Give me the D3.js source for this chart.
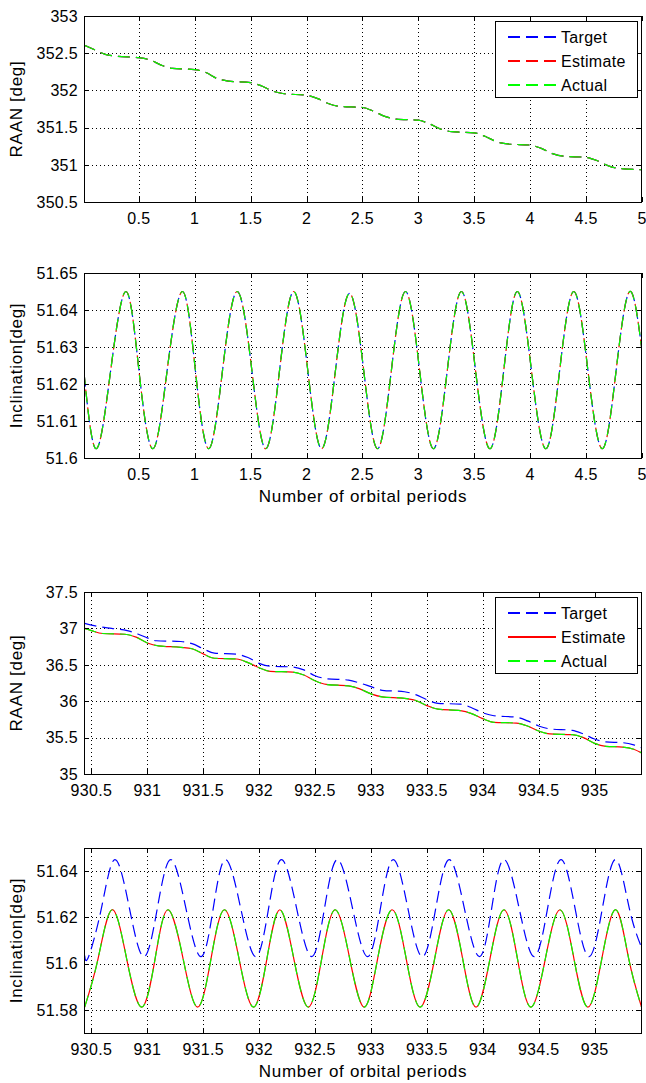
<!DOCTYPE html>
<html>
<head>
<meta charset="utf-8">
<script src="https://cdn.jsdelivr.net/npm/d3@7"></script>
<style>
  body { margin: 0; background: #fff; }
  text { font-family: Arial, "Liberation Sans", sans-serif; fill: #000; }
</style>
</head>
<body>
<script>
// ---- data ----

// panel 1: RAAN, first orbits (target, estimate and actual coincide)
var raan1X = [0.01, 0.1, 0.2, 0.3, 0.5, 0.6, 0.7, 0.8, 1.0, 1.1, 1.2, 1.3, 1.5, 1.6, 1.7, 1.8,
              2.0, 2.1, 2.2, 2.3, 2.5, 2.6, 2.7, 2.8, 3.0, 3.1, 3.2, 3.3, 3.5, 3.6, 3.7, 3.8,
              4.0, 4.1, 4.2, 4.3, 4.5, 4.6, 4.7, 4.8, 5.0];
var raan1Y = [352.61, 352.55, 352.485, 352.46, 352.44, 352.41, 352.34, 352.295, 352.28, 352.24, 352.16, 352.125,
              352.105, 352.06, 351.99, 351.955, 351.935, 351.89, 351.82, 351.785, 351.77, 351.72, 351.65, 351.615,
              351.6, 351.55, 351.48, 351.445, 351.43, 351.38, 351.31, 351.28, 351.265, 351.22, 351.15, 351.115,
              351.1, 351.055, 350.985, 350.95, 350.935];

// panel 2: inclination, first orbits
var incl1X = [0.01, 0.12, 0.25, 0.385, 0.5, 0.625, 0.755, 0.89, 1.005, 1.125, 1.25, 1.38, 1.51, 1.635,
              1.76, 1.885, 2.01, 2.135, 2.26, 2.385, 2.51, 2.635, 2.76, 2.885, 3.01, 3.135, 3.26, 3.385,
              3.51, 3.64, 3.765, 3.885, 4.01, 4.14, 4.265, 4.39, 4.515, 4.645, 4.77, 4.89, 5.0];
var incl1Y = [51.623, 51.6025, 51.624, 51.645, 51.624, 51.6025, 51.624, 51.645, 51.624, 51.6025, 51.624, 51.645,
              51.624, 51.6025, 51.624, 51.645, 51.624, 51.6025, 51.624, 51.6445, 51.624, 51.6025, 51.624, 51.645,
              51.624, 51.6025, 51.624, 51.645, 51.624, 51.6025, 51.624, 51.645, 51.624, 51.6025, 51.624, 51.645,
              51.624, 51.6025, 51.624, 51.645, 51.629];

// panel 3: RAAN, later orbits
var raan2TargetX = [930.44, 930.55, 930.68, 930.82, 930.92, 931.0, 931.08, 931.3, 931.4, 931.5, 931.6, 931.8,
                    931.9, 932.0, 932.1, 932.3, 932.4, 932.5, 932.6, 932.8, 932.9, 933.0, 933.1, 933.3,
                    933.4, 933.5, 933.6, 933.8, 933.9, 934.0, 934.1, 934.3, 934.4, 934.5, 934.6, 934.8,
                    934.9, 935.0, 935.1, 935.25, 935.35, 935.42];
var raan2TargetY = [37.07, 37.03, 37.0, 36.97, 36.92, 36.87, 36.83, 36.82, 36.79, 36.72, 36.66, 36.645,
                    36.6, 36.52, 36.48, 36.47, 36.43, 36.35, 36.31, 36.29, 36.25, 36.2, 36.15, 36.13,
                    36.09, 36.02, 35.97, 35.96, 35.91, 35.84, 35.8, 35.78, 35.73, 35.66, 35.62, 35.6,
                    35.55, 35.48, 35.44, 35.43, 35.4, 35.36];
var raan2EstX = [930.44, 930.5, 930.6, 930.8, 930.9, 931.0, 931.1, 931.3, 931.4, 931.5, 931.6, 931.8,
                 931.9, 932.0, 932.1, 932.3, 932.4, 932.5, 932.6, 932.8, 932.9, 933.0, 933.1, 933.3,
                 933.4, 933.5, 933.6, 933.8, 933.9, 934.0, 934.1, 934.3, 934.4, 934.5, 934.6, 934.8,
                 934.9, 935.0, 935.1, 935.25, 935.35, 935.42];
var raan2EstY = [37.0, 36.97, 36.93, 36.92, 36.88, 36.8, 36.76, 36.74, 36.72, 36.65, 36.59, 36.58,
                 36.53, 36.46, 36.41, 36.4, 36.36, 36.28, 36.23, 36.21, 36.17, 36.1, 36.06, 36.04,
                 36.01, 35.94, 35.89, 35.87, 35.83, 35.76, 35.71, 35.7, 35.66, 35.59, 35.55, 35.54,
                 35.5, 35.42, 35.38, 35.37, 35.34, 35.29];

// panel 4: inclination, later orbits
var incl2TargetX = [930.44, 930.475, 930.59, 930.71, 930.84, 930.97, 931.09, 931.21, 931.345, 931.48, 931.59,
                    931.7, 931.835, 931.97, 932.085, 932.2, 932.335, 932.47, 932.585, 932.7, 932.835, 932.97,
                    933.085, 933.2, 933.33, 933.46, 933.58, 933.7, 933.835, 933.97, 934.08, 934.19, 934.325,
                    934.46, 934.58, 934.7, 934.825, 934.95, 935.07, 935.19, 935.31, 935.42];
var incl2TargetY = [51.6035, 51.603, 51.624, 51.645, 51.624, 51.603, 51.624, 51.645, 51.624, 51.603, 51.624,
                    51.645, 51.624, 51.603, 51.624, 51.645, 51.624, 51.603, 51.624, 51.645, 51.624, 51.603,
                    51.624, 51.645, 51.624, 51.603, 51.624, 51.645, 51.624, 51.603, 51.624, 51.645, 51.624,
                    51.603, 51.624, 51.645, 51.624, 51.603, 51.624, 51.645, 51.624, 51.607];
var incl2EstX = [930.44, 930.56, 930.685, 930.815, 930.95, 931.07, 931.185, 931.32, 931.45, 931.57, 931.69,
                 931.82, 931.95, 932.07, 932.185, 932.31, 932.44, 932.56, 932.68, 932.81, 932.94, 933.06,
                 933.19, 933.315, 933.44, 933.57, 933.695, 933.82, 933.94, 934.065, 934.19, 934.31, 934.43,
                 934.56, 934.69, 934.815, 934.94, 935.065, 935.19, 935.305, 935.42];
var incl2EstY = [51.5812, 51.6022, 51.6233, 51.6022, 51.5812, 51.6022, 51.6233, 51.6022, 51.5812, 51.6022,
                 51.6233, 51.6022, 51.5812, 51.6022, 51.6233, 51.6022, 51.5812, 51.6022, 51.6233, 51.6022,
                 51.5812, 51.6022, 51.6233, 51.6022, 51.5812, 51.6022, 51.6233, 51.6022, 51.5812, 51.6022,
                 51.6233, 51.6022, 51.5812, 51.6022, 51.6233, 51.6022, 51.5812, 51.6022, 51.6233, 51.6022,
                 51.5812];

// axis ticks
var xTicks1 = [0.5, 1, 1.5, 2, 2.5, 3, 3.5, 4, 4.5, 5];
var xTickLabels1 = ["0.5", "1", "1.5", "2", "2.5", "3", "3.5", "4", "4.5", "5"];
var xTicks2 = [930.5, 931, 931.5, 932, 932.5, 933, 933.5, 934, 934.5, 935];
var xTickLabels2 = ["930.5", "931", "931.5", "932", "932.5", "933", "933.5", "934", "934.5", "935"];
var raan1Ticks = [350.5, 351, 351.5, 352, 352.5, 353];
var raan1TickLabels = ["350.5", "351", "351.5", "352", "352.5", "353"];
var incl1Ticks = [51.6, 51.61, 51.62, 51.63, 51.64, 51.65];
var incl1TickLabels = ["51.6", "51.61", "51.62", "51.63", "51.64", "51.65"];
var raan2Ticks = [35, 35.5, 36, 36.5, 37, 37.5];
var raan2TickLabels = ["35", "35.5", "36", "36.5", "37", "37.5"];
var incl2Ticks = [51.58, 51.6, 51.62, 51.64];
var incl2TickLabels = ["51.58", "51.6", "51.62", "51.64"];

var seriesNames = ["Target", "Estimate", "Actual"];

// ---- drawing ----
var W = 646, H = 1083;
var left = 84, right = 642;
var dash = "12,6";

var svg = d3.select("body").append("svg")
  .attr("width", W)
  .attr("height", H);

svg.append("rect").attr("width", W).attr("height", H).attr("fill", "#fff");

function pts(xs, ys) {
  return xs.map(function(x, i) { return [x, ys[i]]; });
}

var clipId = 0;

function panel(o) {
  var x = d3.scaleLinear().domain(o.xDomain).range([left, right]);
  var y = d3.scaleLinear().domain(o.yDomain).range([o.bottom, o.top]);
  var g = svg.append("g");

  // dotted grid
  g.selectAll(".gx").data(o.xTicks.filter(function(t) { return Math.abs(x(t) - right) > 2; }))
    .enter().append("line")
    .attr("x1", function(d) { return Math.round(x(d)) + 0.5; })
    .attr("x2", function(d) { return Math.round(x(d)) + 0.5; })
    .attr("y1", o.top).attr("y2", o.bottom)
    .attr("stroke", "#000").attr("stroke-dasharray", "1,3");
  g.selectAll(".gy").data(o.yTicks.filter(function(t) { return Math.abs(y(t) - o.top) > 2 && Math.abs(y(t) - o.bottom) > 2; }))
    .enter().append("line")
    .attr("y1", function(d) { return Math.round(y(d)) + 0.5; })
    .attr("y2", function(d) { return Math.round(y(d)) + 0.5; })
    .attr("x1", left).attr("x2", right)
    .attr("stroke", "#000").attr("stroke-dasharray", "1,3");

  // series
  var cid = "clip" + (clipId++);
  svg.append("clipPath").attr("id", cid).append("rect")
    .attr("x", left).attr("y", o.top).attr("width", right - left).attr("height", o.bottom - o.top);
  var line = d3.line()
    .x(function(d) { return x(d[0]); })
    .y(function(d) { return y(d[1]); })
    .curve(o.curve);
  var sg = g.append("g").attr("clip-path", "url(#" + cid + ")");
  o.series.forEach(function(s) {
    sg.append("path")
      .attr("d", line(s.data))
      .attr("fill", "none")
      .attr("stroke", s.color)
      .attr("stroke-width", 1.2)
      .attr("stroke-dasharray", s.dash)
      .attr("stroke-dashoffset", s.offset || 0);
  });

  // frame
  g.append("rect")
    .attr("x", left + 0.5).attr("y", o.top + 0.5)
    .attr("width", right - left - 1).attr("height", o.bottom - o.top)
    .attr("fill", "none").attr("stroke", "#000");

  // inward ticks on all four sides
  o.xTicks.forEach(function(t) {
    var px = Math.round(x(t)) + 0.5;
    g.append("line").attr("x1", px).attr("x2", px).attr("y1", o.bottom).attr("y2", o.bottom - 5).attr("stroke", "#000");
    g.append("line").attr("x1", px).attr("x2", px).attr("y1", o.top).attr("y2", o.top + 5).attr("stroke", "#000");
  });
  o.yTicks.forEach(function(t) {
    var py = Math.round(y(t)) + 0.5;
    g.append("line").attr("y1", py).attr("y2", py).attr("x1", left).attr("x2", left + 5).attr("stroke", "#000");
    g.append("line").attr("y1", py).attr("y2", py).attr("x1", right).attr("x2", right - 5).attr("stroke", "#000");
  });

  // tick labels
  g.selectAll(".xl").data(o.xTicks).enter().append("text")
    .attr("x", function(d) { return x(d); })
    .attr("y", o.bottom + 22)
    .attr("text-anchor", "middle")
    .attr("font-size", "16px")
    .attr("letter-spacing", "0.3px")
    .text(function(d, i) { return o.xTickLabels[i]; });
  g.selectAll(".yl").data(o.yTicks).enter().append("text")
    .attr("x", left - 6)
    .attr("y", function(d) { return y(d); })
    .attr("dy", "0.36em")
    .attr("text-anchor", "end")
    .attr("font-size", "16px")
    .attr("letter-spacing", "0.3px")
    .text(function(d, i) { return o.yTickLabels[i]; });

  // axis titles
  g.append("text")
    .attr("transform", "translate(22," + ((o.top + o.bottom) / 2) + ") rotate(-90)")
    .attr("text-anchor", "middle")
    .attr("font-size", "17px")
    .attr("letter-spacing", "0.7px")
    .text(o.ylabel);
  if (o.xlabel) {
    g.append("text")
      .attr("x", (left + right) / 2)
      .attr("y", o.bottom + 44)
      .attr("text-anchor", "middle")
      .attr("font-size", "17px")
      .attr("letter-spacing", "0.7px")
      .text(o.xlabel);
  }

  // legend
  if (o.legend) {
    var lx = 495, ly = o.top + 5;
    var lg = g.append("g");
    lg.append("rect")
      .attr("x", lx + 0.5).attr("y", ly + 0.5)
      .attr("width", 142).attr("height", 76)
      .attr("fill", "#fff").attr("stroke", "#000");
    o.legend.forEach(function(s, i) {
      var ry = ly + 16 + i * 24;
      lg.append("line")
        .attr("x1", lx + 13).attr("x2", lx + 61)
        .attr("y1", ry).attr("y2", ry)
        .attr("stroke", s.color).attr("stroke-width", 2)
        .attr("stroke-dasharray", s.dash);
      lg.append("text")
        .attr("x", lx + 66).attr("y", ry)
        .attr("dy", "0.36em")
        .attr("font-size", "16px")
        .attr("letter-spacing", "0.3px")
        .text(seriesNames[i]);
    });
  }
}

var xl = "Number of orbital periods";

panel({
  top: 16, bottom: 202,
  xDomain: [0.01, 5], yDomain: [350.5, 353],
  xTicks: xTicks1, xTickLabels: xTickLabels1,
  yTicks: raan1Ticks, yTickLabels: raan1TickLabels,
  ylabel: "RAAN [deg]",
  curve: d3.curveMonotoneX,
  series: [
    {data: pts(raan1X, raan1Y), color: "#0000ff", dash: dash},
    {data: pts(raan1X, raan1Y), color: "#ff0000", dash: dash},
    {data: pts(raan1X, raan1Y), color: "#00ff00", dash: dash}
  ],
  legend: [
    {color: "#0000ff", dash: dash},
    {color: "#ff0000", dash: dash},
    {color: "#00ff00", dash: dash}
  ]
});

panel({
  top: 273, bottom: 458,
  xDomain: [0.01, 5], yDomain: [51.6, 51.65],
  xTicks: xTicks1, xTickLabels: xTickLabels1,
  yTicks: incl1Ticks, yTickLabels: incl1TickLabels,
  ylabel: "Inclination[deg]", xlabel: xl,
  curve: d3.curveNatural,
  series: [
    {data: pts(incl1X, incl1Y), color: "#0000ff", dash: dash, offset: -1.5},
    {data: pts(incl1X, incl1Y), color: "#ff0000", dash: dash, offset: 1.5},
    {data: pts(incl1X, incl1Y), color: "#00ff00", dash: dash}
  ]
});

panel({
  top: 592, bottom: 774,
  xDomain: [930.434, 935.424], yDomain: [35, 37.5],
  xTicks: xTicks2, xTickLabels: xTickLabels2,
  yTicks: raan2Ticks, yTickLabels: raan2TickLabels,
  ylabel: "RAAN [deg]",
  curve: d3.curveMonotoneX,
  series: [
    {data: pts(raan2TargetX, raan2TargetY), color: "#0000ff", dash: dash},
    {data: pts(raan2EstX, raan2EstY), color: "#ff0000", dash: null},
    {data: pts(raan2EstX, raan2EstY), color: "#00ff00", dash: dash}
  ],
  legend: [
    {color: "#0000ff", dash: dash},
    {color: "#ff0000", dash: null},
    {color: "#00ff00", dash: dash}
  ]
});

panel({
  top: 848, bottom: 1033,
  xDomain: [930.434, 935.424], yDomain: [51.57, 51.65],
  xTicks: xTicks2, xTickLabels: xTickLabels2,
  yTicks: incl2Ticks, yTickLabels: incl2TickLabels,
  ylabel: "Inclination[deg]", xlabel: xl,
  curve: d3.curveNatural,
  series: [
    {data: pts(incl2TargetX, incl2TargetY), color: "#0000ff", dash: dash},
    {data: pts(incl2EstX, incl2EstY), color: "#ff0000", dash: null},
    {data: pts(incl2EstX, incl2EstY), color: "#00ff00", dash: dash}
  ]
});
</script>
</body>
</html>
